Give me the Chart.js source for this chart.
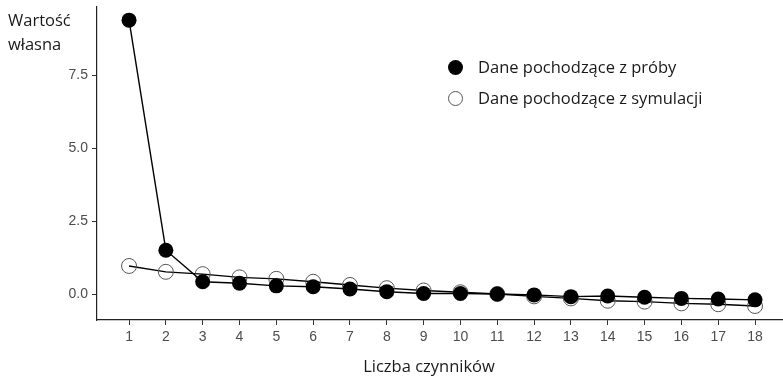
<!DOCTYPE html>
<html>
<head>
<meta charset="utf-8">
<script src="https://cdn.jsdelivr.net/npm/chart.js@4.4.1/dist/chart.umd.min.js"></script>
<style>
  html, body { margin: 0; padding: 0; background: #fff; overflow: hidden; }
  #wrap { position: relative; width: 783px; height: 379px; }
  #chart { display: block; }
  .legend { position: absolute; left: 448px; height: 15px; font-family: "Open Sans", sans-serif; font-size: 16.5px; color: #1a1a1a; }
  .legend span.dot { position: absolute; left: 0; top: 0; width: 15px; height: 15px; border-radius: 50%; box-sizing: border-box; }
  .legend span.txt { position: absolute; left: 30px; top: -3px; white-space: nowrap; line-height: 20px; }
</style>
</head>
<body>
<div id="wrap">
  <canvas id="chart" width="783" height="379"></canvas>
  <div class="legend" style="top:60px">
    <span class="dot" style="background:#000"></span><span class="txt">Dane pochodzące z próby</span>
  </div>
  <div class="legend" style="top:91px">
    <span class="dot" style="border:1px solid #555"></span><span class="txt">Dane pochodzące z symulacji</span>
  </div>
</div>
<script>
  // factor numbers 1..18
  const factors = [1, 2, 3, 4, 5, 6, 7, 8, 9, 10, 11, 12, 13, 14, 15, 16, 17, 18];

  // eigenvalues
  const sampleValues = [9.38, 1.50, 0.42, 0.37, 0.28, 0.25, 0.17, 0.08, 0.02, 0.02,
    0.00, -0.03, -0.09, -0.07, -0.11, -0.15, -0.17, -0.20];
  const simulatedValues = [0.96, 0.76, 0.68, 0.57, 0.52, 0.42, 0.31, 0.20, 0.12, 0.06,
    0.00, -0.08, -0.15, -0.23, -0.26, -0.32, -0.35, -0.41];

  const yTicks = [0, 2.5, 5, 7.5];
  const xTicks = factors;

  const yTitleLines = ["Wartość", "własna"];
  const xTitle = "Liczba czynników";

  function toPoints(values) {
    return values.map((v, i) => ({x: factors[i], y: v}));
  }

  // axis titles sit where ggplot put them, not where Chart.js would
  const titlesPlugin = {
    id: "titles",
    afterDraw(chart) {
      const ctx = chart.ctx;
      ctx.save();
      ctx.font = '16.5px "Open Sans", sans-serif';
      ctx.fillStyle = "#1a1a1a";
      ctx.textBaseline = "middle";
      ctx.textAlign = "left";
      ctx.fillText(yTitleLines[0], 8, 21);
      ctx.fillText(yTitleLines[1], 8, 45);
      ctx.textAlign = "center";
      ctx.fillText(xTitle, 429, 367);
      ctx.restore();
    },
  };

  function noPadding(scale) {
    scale.paddingTop = 0;
    scale.paddingBottom = 0;
    scale.paddingLeft = 0;
    scale.paddingRight = 0;
  }

  const tickFont = {family: '"Liberation Sans", Arial, sans-serif', size: 14};

  new Chart(document.getElementById("chart"), {
    type: "line",
    data: {
      datasets: [
        {
          label: "Dane pochodzące z próby",
          data: toPoints(sampleValues),
          borderColor: "#000",
          borderWidth: 1.4,
          backgroundColor: "#000",
          pointBackgroundColor: "#000",
          pointBorderColor: "#000",
          pointRadius: 7.5,
          pointBorderWidth: 0,
          tension: 0,
          order: 0,
        },
        {
          label: "Dane pochodzące z symulacji",
          data: toPoints(simulatedValues),
          borderColor: "#000",
          borderWidth: 1.4,
          backgroundColor: "rgba(0,0,0,0)",
          pointBackgroundColor: "rgba(0,0,0,0)",
          pointBorderColor: "#555",
          pointRadius: 7.5,
          pointBorderWidth: 1,
          tension: 0,
          order: 1,
        },
      ],
    },
    options: {
      responsive: false,
      animation: false,
      layout: {autoPadding: false, padding: {top: 7, right: 0, left: 0, bottom: 0}},
      plugins: {
        legend: {display: false},
        tooltip: {enabled: false},
      },
      scales: {
        x: {
          type: "linear",
          min: 0.13,
          max: 18.76,
          afterFit: (scale) => { scale.height = 59; noPadding(scale); },
          afterBuildTicks: (scale) => { scale.ticks = xTicks.map((v) => ({value: v})); },
          grid: {display: true, drawOnChartArea: false, tickLength: 5, tickColor: "#333", tickWidth: 1},
          border: {display: true, color: "#222", width: 1.2},
          ticks: {
            color: "#4d4d4d",
            font: tickFont,
            padding: 4,
            maxRotation: 0,
            autoSkip: false,
          },
        },
        y: {
          min: -0.89,
          max: 9.83,
          afterFit: (scale) => { scale.width = 97; noPadding(scale); },
          afterBuildTicks: (scale) => { scale.ticks = yTicks.map((v) => ({value: v})); },
          grid: {display: true, drawOnChartArea: false, tickLength: 5, tickColor: "#333", tickWidth: 1},
          border: {display: true, color: "#222", width: 1.2},
          ticks: {
            color: "#4d4d4d",
            font: tickFont,
            padding: 4,
            callback: (v) => Number(v).toFixed(1),
          },
        },
      },
    },
    plugins: [titlesPlugin],
  });
</script>
</body>
</html>
